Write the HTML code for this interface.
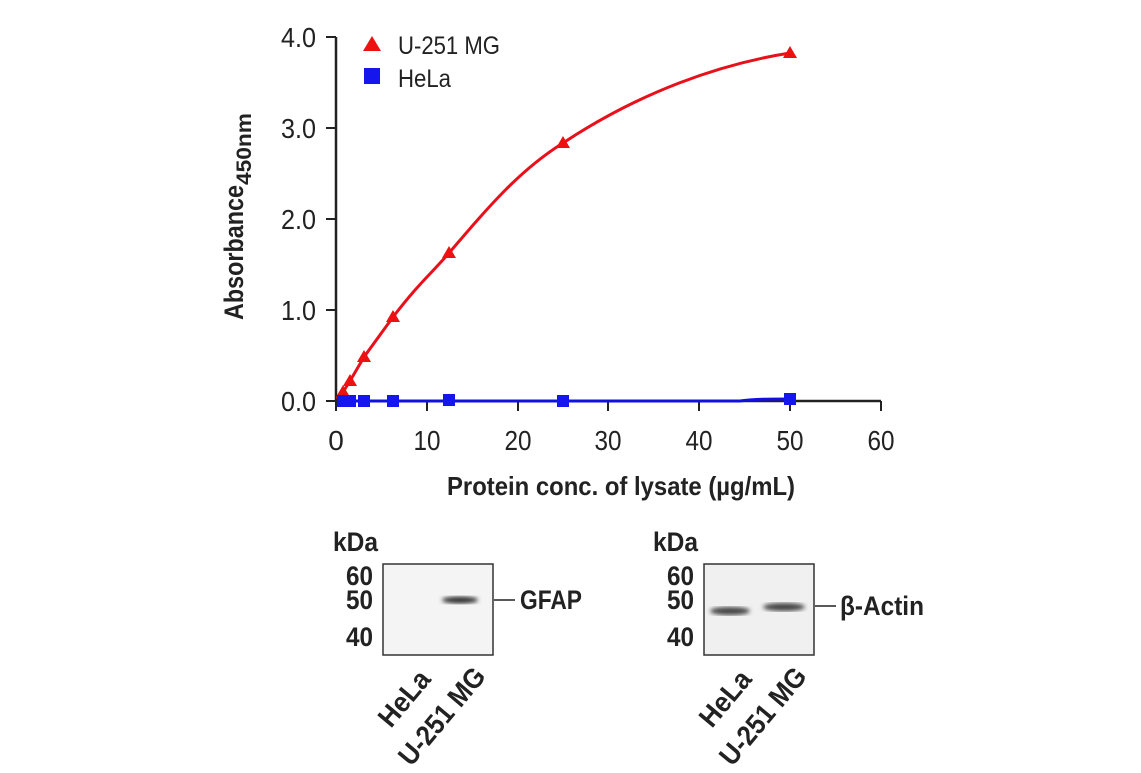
<!DOCTYPE html>
<html><head><style>
body{margin:0;background:#fff;}
svg text{font-family:"Liberation Sans",sans-serif;fill:#222;}
</style></head><body>
<svg width="1141" height="768" viewBox="0 0 1141 768">
<defs>
<filter id="bl"><feGaussianBlur stdDeviation="2"/></filter>
</defs>
<line x1="336" y1="37" x2="336" y2="401" stroke="#222" stroke-width="2.5"/>
<line x1="336" y1="401" x2="881" y2="401" stroke="#222" stroke-width="2.5"/>
<g stroke="#222" stroke-width="2">
<line x1="326" y1="37" x2="336" y2="37"/><line x1="326" y1="128" x2="336" y2="128"/>
<line x1="326" y1="219" x2="336" y2="219"/><line x1="326" y1="310" x2="336" y2="310"/>
<line x1="326" y1="401" x2="336" y2="401"/>
<line x1="336" y1="401" x2="336" y2="411"/><line x1="427" y1="401" x2="427" y2="411"/>
<line x1="518" y1="401" x2="518" y2="411"/><line x1="608" y1="401" x2="608" y2="411"/>
<line x1="699" y1="401" x2="699" y2="411"/><line x1="790" y1="401" x2="790" y2="411"/>
<line x1="881" y1="401" x2="881" y2="411"/>
</g>
<g font-size="28" text-anchor="end">
<text x="316" y="47" textLength="35" lengthAdjust="spacingAndGlyphs">4.0</text>
<text x="316" y="138" textLength="35" lengthAdjust="spacingAndGlyphs">3.0</text>
<text x="316" y="229" textLength="35" lengthAdjust="spacingAndGlyphs">2.0</text>
<text x="316" y="320" textLength="35" lengthAdjust="spacingAndGlyphs">1.0</text>
<text x="316" y="411" textLength="35" lengthAdjust="spacingAndGlyphs">0.0</text>
</g>
<g font-size="28" text-anchor="middle">
<text x="336" y="450">0</text>
<text x="427" y="450" textLength="27" lengthAdjust="spacingAndGlyphs">10</text>
<text x="518" y="450" textLength="27" lengthAdjust="spacingAndGlyphs">20</text>
<text x="608" y="450" textLength="27" lengthAdjust="spacingAndGlyphs">30</text>
<text x="699" y="450" textLength="27" lengthAdjust="spacingAndGlyphs">40</text>
<text x="790" y="450" textLength="27" lengthAdjust="spacingAndGlyphs">50</text>
<text x="881" y="450" textLength="27" lengthAdjust="spacingAndGlyphs">60</text>
</g>
<text x="447" y="495" font-size="26" font-weight="bold" textLength="348" lengthAdjust="spacingAndGlyphs">Protein conc. of lysate (µg/mL)</text>
<text transform="translate(243,320) rotate(-90)" font-size="27" font-weight="bold"><tspan textLength="135" lengthAdjust="spacingAndGlyphs">Absorbance</tspan><tspan font-size="21" dy="8" textLength="72" lengthAdjust="spacingAndGlyphs">450nm</tspan></text>
<path d="M337,399 L343,392 L350,381 L364,357 L393,317 C420,282 430,275 449,253 C490,205 520,170 563,143 C640,92 720,64 790,53" fill="none" stroke="#e8101a" stroke-width="3"/>
<g fill="#ee1111">
<path d="M343,385 l7,12 h-14z"/><path d="M350,374 l7,12 h-14z"/><path d="M364,350 l7,12 h-14z"/>
<path d="M393,310 l7,12 h-14z"/><path d="M449,246 l7,12 h-14z"/><path d="M563,136 l7,12 h-14z"/>
<path d="M790,46 l7,12 h-14z"/>
</g>
<path d="M337,401 L740,401 C755,399 770,399 790,399" fill="none" stroke="#1010e0" stroke-width="3"/>
<g fill="#1515ee">
<rect x="337" y="395" width="12" height="12"/><rect x="344" y="395" width="12" height="12"/>
<rect x="358" y="395" width="12" height="12"/><rect x="387" y="395" width="12" height="12"/>
<rect x="443" y="394" width="12" height="12"/><rect x="557" y="395" width="12" height="12"/>
<rect x="784" y="393" width="12" height="12"/>
</g>
<path d="M372,36 l9,15 h-18z" fill="#ee1111"/>
<rect x="364" y="68" width="16" height="16" fill="#1515ee"/>
<text x="398" y="54" font-size="25" textLength="102" lengthAdjust="spacingAndGlyphs">U-251 MG</text>
<text x="398" y="87" font-size="25" textLength="53" lengthAdjust="spacingAndGlyphs">HeLa</text>
<g font-size="27" font-weight="bold">
<text x="333" y="551" textLength="45" lengthAdjust="spacingAndGlyphs">kDa</text>
<text x="653" y="551" textLength="45" lengthAdjust="spacingAndGlyphs">kDa</text>
<text x="346" y="585" textLength="27" lengthAdjust="spacingAndGlyphs">60</text>
<text x="346" y="609" textLength="27" lengthAdjust="spacingAndGlyphs">50</text>
<text x="346" y="646" textLength="27" lengthAdjust="spacingAndGlyphs">40</text>
<text x="667" y="585" textLength="27" lengthAdjust="spacingAndGlyphs">60</text>
<text x="667" y="609" textLength="27" lengthAdjust="spacingAndGlyphs">50</text>
<text x="667" y="646" textLength="27" lengthAdjust="spacingAndGlyphs">40</text>
<text x="520" y="609" textLength="62" lengthAdjust="spacingAndGlyphs">GFAP</text>
<text x="840" y="615" textLength="84" lengthAdjust="spacingAndGlyphs">β-Actin</text>
</g>
<rect x="383" y="564" width="110" height="91" fill="#f4f4f4" stroke="#333" stroke-width="1.5"/>
<rect x="704" y="564" width="110" height="91" fill="#f0f0f0" stroke="#333" stroke-width="1.5"/>
<ellipse cx="460" cy="600" rx="18" ry="3.5" fill="#333" filter="url(#bl)"/>
<ellipse cx="730" cy="611" rx="20" ry="4" fill="#444" filter="url(#bl)"/>
<ellipse cx="784" cy="607" rx="21" ry="4" fill="#444" filter="url(#bl)"/>
<line x1="494" y1="600" x2="515" y2="600" stroke="#222" stroke-width="1.5"/>
<line x1="815" y1="606" x2="836" y2="606" stroke="#222" stroke-width="1.5"/>
<g font-size="28" font-weight="bold" text-anchor="end">
<text transform="translate(432,680) rotate(-50)" textLength="64" lengthAdjust="spacingAndGlyphs">HeLa</text>
<text transform="translate(487,677) rotate(-50)" textLength="118" lengthAdjust="spacingAndGlyphs">U-251 MG</text>
<text transform="translate(753,680) rotate(-50)" textLength="64" lengthAdjust="spacingAndGlyphs">HeLa</text>
<text transform="translate(808,677) rotate(-50)" textLength="118" lengthAdjust="spacingAndGlyphs">U-251 MG</text>
</g>
</svg>
</body></html>
